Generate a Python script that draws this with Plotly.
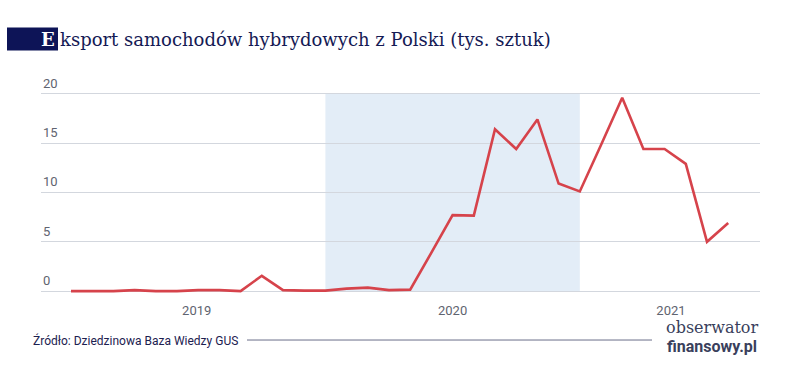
import plotly.graph_objects as go

# Data (monthly index)
x_idx = list(range(32))
values = [0, 0, 0, 0.1, 0, 0, 0.1, 0.1, 0, 1.55, 0.1, 0.05, 0.05, 0.25, 0.35, 0.1,
          0.15, 3.9, 7.7, 7.65, 16.4, 14.4, 17.4, 10.9, 10.1, 14.8, 19.6, 14.4, 14.4,
          12.9, 5.0, 6.9]
x_tick_pos = [5.93, 18.0, 28.3]
x_tick_labels = ["2019", "2020", "2021"]
y_ticks = [0, 5, 10, 15, 20]
shade_start, shade_end = 12, 24

W, H = 788, 368
L, R = 41, 760
T, B = 78.5, 300.9


def px(xpix):
    return (xpix - L) / (R - L)


def py(ypix):
    return (B - ypix) / (B - T)


fig = go.Figure()
fig.add_trace(go.Scatter(x=x_idx, y=values, mode="lines",
                         line=dict(color="#d6434b", width=2.6), hoverinfo="skip"))

fig.add_shape(type="rect", xref="x", yref="y", x0=shade_start, x1=shade_end, y0=0, y1=20,
              fillcolor="#e3edf7", line=dict(width=0), layer="below")

annotations = []
for v in y_ticks:
    annotations.append(dict(x=0, xref="paper", y=v, yref="y", text=str(v), showarrow=False,
                            xanchor="left", yanchor="bottom", yshift=1,
                            font=dict(family="Roboto", size=13, color="#5f6470")))

# Title
annotations.append(dict(x=px(58), xref="paper", y=py(39), yref="paper",
                        text="ksport samochodów hybrydowych z Polski (tys. sztuk)",
                        showarrow=False, xanchor="left", yanchor="middle",
                        font=dict(family="DejaVu Serif", size=18, color="#151a55")))
annotations.append(dict(x=px(57), xref="paper", y=py(39), yref="paper",
                        text="<b>E</b>", showarrow=False, xanchor="right", yanchor="middle",
                        font=dict(family="DejaVu Serif", size=18, color="#ffffff")))
# Footer
annotations.append(dict(x=px(31), xref="paper", y=py(340), yref="paper",
                        text="Źródło: Dziedzinowa Baza Wiedzy GUS", showarrow=False,
                        xanchor="left", yanchor="middle",
                        font=dict(family="Roboto", size=12, color="#1c2150")))
annotations.append(dict(x=px(712), xref="paper", y=py(327), yref="paper",
                        text="obserwator", showarrow=False, xanchor="center", yanchor="middle",
                        font=dict(family="DejaVu Serif", size=16, color="#3a3f5c")))
annotations.append(dict(x=px(712), xref="paper", y=py(346), yref="paper",
                        text="<b>finansowy.pl</b>", showarrow=False, xanchor="center", yanchor="middle",
                        font=dict(family="Roboto", size=16, color="#3a3f5c")))

shapes = [
    dict(type="rect", xref="paper", yref="paper", x0=px(5), x1=px(783), y0=py(355), y1=py(5),
         fillcolor="#f5f6f8", line=dict(width=0), layer="below"),
    dict(type="rect", xref="paper", yref="paper", x0=px(7), x1=px(58), y0=py(50), y1=py(27),
         fillcolor="#0d1457", line=dict(width=0), layer="below"),
    dict(type="line", xref="paper", yref="paper", x0=px(247), x1=px(652), y0=py(340), y1=py(340),
         line=dict(color="#6a6f8a", width=1)),
]

px_per_idx = 21.2
x0_px = 71
xr = [(L - x0_px) / px_per_idx, (R - x0_px) / px_per_idx]
px_per_unit = 9.885
zero_px = 291
yr = [-(B - zero_px) / px_per_unit, (zero_px - T) / px_per_unit]

fig.update_layout(
    width=W, height=H,
    margin=dict(l=L, r=W - R, t=T, b=H - B, pad=0, autoexpand=False),
    paper_bgcolor="#ffffff", plot_bgcolor="rgba(0,0,0,0)",
    showlegend=False,
    xaxis=dict(range=xr, tickvals=x_tick_pos, ticktext=x_tick_labels, showgrid=False,
               zeroline=False, showline=False, ticks="", fixedrange=True, automargin=False,
               tickfont=dict(family="Roboto", size=13, color="#5f6470")),
    yaxis=dict(range=yr, tickvals=y_ticks, showticklabels=False, showgrid=True, automargin=False,
               gridcolor="#d3d7de", gridwidth=1, zeroline=False, showline=False, fixedrange=True),
    annotations=annotations,
    shapes=shapes,
)

fig.write_html("out.html", config={"displayModeBar": False},
               post_script="document.body.style.margin='0';document.body.style.overflow='hidden';")
